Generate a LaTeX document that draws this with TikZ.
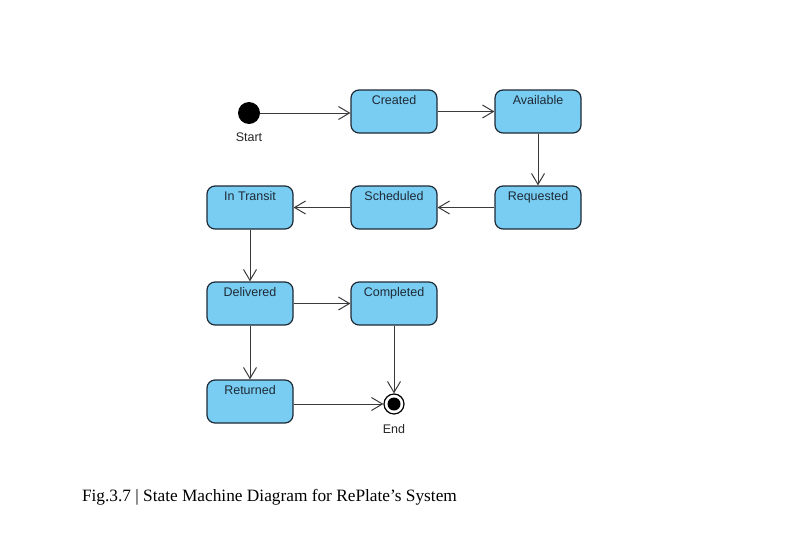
\documentclass[tikz,border=0pt]{standalone}
\usepackage{fontspec}
\setmainfont{Liberation Serif}
\setsansfont{Liberation Sans}
\usetikzlibrary{arrows.meta}
\definecolor{boxfill}{HTML}{79CDF2}
\definecolor{boxline}{HTML}{1E2A36}
\definecolor{arr}{HTML}{3A3A3A}
\begin{document}
\begin{tikzpicture}[x=1pt,y=-1pt,
  state/.style={draw=boxline,fill=boxfill,line width=1.2pt,rounded corners=8pt,
    minimum width=86pt,minimum height=43pt,inner sep=0pt},
  stlabel/.style={font=\sffamily\fontsize{12.5}{14}\selectfont,text=boxline,anchor=north},
  lbl/.style={font=\sffamily\fontsize{12.5}{14}\selectfont,text=black!85},
  conn/.style={draw=arr,line width=1pt,-{Straight Barb[length=11pt,width=13pt,line width=1pt]}}]
\useasboundingbox (0,0) rectangle (791,538);
% states
\node[state] (created) at (394,111.5) {};
\node[state] (available) at (538,111.5) {};
\node[state] (requested) at (538,207.5) {};
\node[state] (scheduled) at (394,207.5) {};
\node[state] (transit) at (250,207.5) {};
\node[state] (delivered) at (250,303.5) {};
\node[state] (completed) at (394,303.5) {};
\node[state] (returned) at (250,401.5) {};
\foreach \n/\t in {created/Created,available/Available,requested/Requested,scheduled/Scheduled,transit/In Transit,delivered/Delivered,completed/Completed,returned/Returned}
  \node[stlabel] at ([yshift=-2.5pt]\n.north) {\t};
% start and end
\node[circle,fill=black,minimum size=22pt,inner sep=0pt] (start) at (249,113) {};
\node[lbl] (startl) at (249,137) {Start};
\node[circle,draw=black,line width=1.2pt,fill=white,minimum size=20pt,inner sep=0pt] (end) at (394,404) {};
\node[circle,fill=black,minimum size=13pt,inner sep=0pt] (endin) at (end.center) {};
\node[lbl] (endl) at (394,429) {End};
% connectors
\draw[conn] (start) -- (created.west |- start);
\draw[conn] (created) -- (available);
\draw[conn] (available) -- (requested);
\draw[conn] (requested) -- (scheduled);
\draw[conn] (scheduled) -- (transit);
\draw[conn] (transit) -- (delivered);
\draw[conn] (delivered) -- (completed);
\draw[conn] (delivered) -- (returned);
\draw[conn] (completed) -- (end);
\draw[conn] (returned.east |- end) -- (end);
% caption
\node[anchor=west,font=\fontsize{17.3}{20}\selectfont] (cap) at (78.5,497) {Fig.3.7 | State Machine Diagram for RePlate’s System};
\end{tikzpicture}
\end{document}
